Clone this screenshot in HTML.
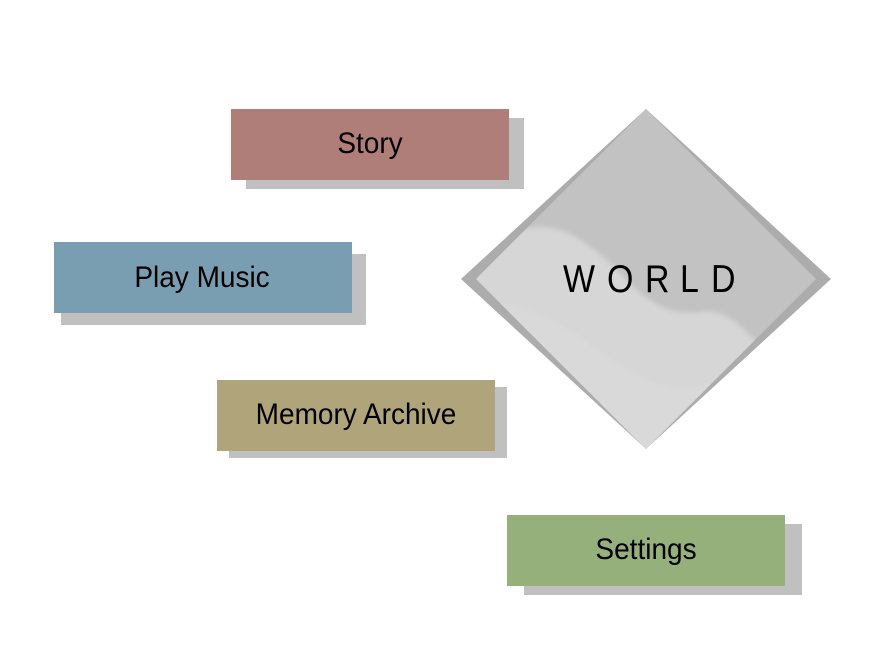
<!DOCTYPE html>
<html>
<head>
<meta charset="utf-8">
<style>
  html,body{margin:0;padding:0;background:#fff;}
  body{width:871px;height:671px;overflow:hidden;}
  svg{display:block;}
  text{font-family:"Liberation Sans", Arial, sans-serif;fill:#000;}
</style>
</head>
<body>
<svg width="871" height="671" viewBox="0 0 871 671" xmlns="http://www.w3.org/2000/svg">
  <rect x="0" y="0" width="871" height="671" fill="#ffffff"/>

  <!-- Story -->
  <rect x="246" y="118" width="278" height="71" fill="#c0c0c0"/>
  <rect x="231" y="109" width="278" height="71" fill="#b07e78"/>
  <text transform="translate(370,153) scale(1,1.06)" font-size="28" text-anchor="middle">Story</text>

  <!-- Play Music -->
  <rect x="61" y="254" width="305" height="71" fill="#c0c0c0"/>
  <rect x="54" y="242" width="298" height="71" fill="#7a9eb1"/>
  <text transform="translate(202,287) scale(1,1.06)" font-size="28" text-anchor="middle">Play Music</text>

  <!-- Memory Archive -->
  <rect x="229" y="387" width="278" height="71" fill="#c0c0c0"/>
  <rect x="217" y="380" width="278" height="71" fill="#b0a57a"/>
  <text transform="translate(356,424) scale(1,1.06)" font-size="28" text-anchor="middle">Memory Archive</text>

  <!-- Settings -->
  <rect x="524" y="524" width="278" height="71" fill="#c0c0c0"/>
  <rect x="507" y="515" width="278" height="71" fill="#96b07c"/>
  <text transform="translate(646,559) scale(1,1.06)" font-size="28" text-anchor="middle">Settings</text>

  <!-- WORLD diamond -->
  <defs>
    <clipPath id="inner">
      <polygon points="646,109 816,279 646,449 476,279"/>
    </clipPath>
    <filter id="soft" x="-10%" y="-10%" width="120%" height="120%">
      <feGaussianBlur stdDeviation="2.5"/>
    </filter>
  </defs>
  <polygon points="646,109 831,279 646,449 461,279" fill="#acacac"/>
  <polygon points="646,109 816,279 646,449 476,279" fill="#c2c2c2"/>
  <g clip-path="url(#inner)">
    <path d="M 470,250 L 505,238 C 520,226 545,222 570,234 C 595,247 612,264 630,284 C 650,302 670,316 700,312 C 722,308 738,322 760,345 L 700,470 L 470,470 Z" fill="#d6d6d6" filter="url(#soft)"/>
    <path d="M 470,300 C 520,300 560,320 600,350 C 640,380 680,400 720,380 L 700,470 L 470,470 Z" fill="#dadada" filter="url(#soft)" opacity="0.7"/>
  </g>
  <text transform="translate(563,292) scale(0.87,1)" font-size="39">W</text>
  <text transform="translate(607,292) scale(0.87,1)" font-size="39">O</text>
  <text transform="translate(645,292) scale(0.87,1)" font-size="39">R</text>
  <text transform="translate(680,292) scale(0.87,1)" font-size="39">L</text>
  <text transform="translate(711,292) scale(0.87,1)" font-size="39">D</text>
</svg>
</body>
</html>
